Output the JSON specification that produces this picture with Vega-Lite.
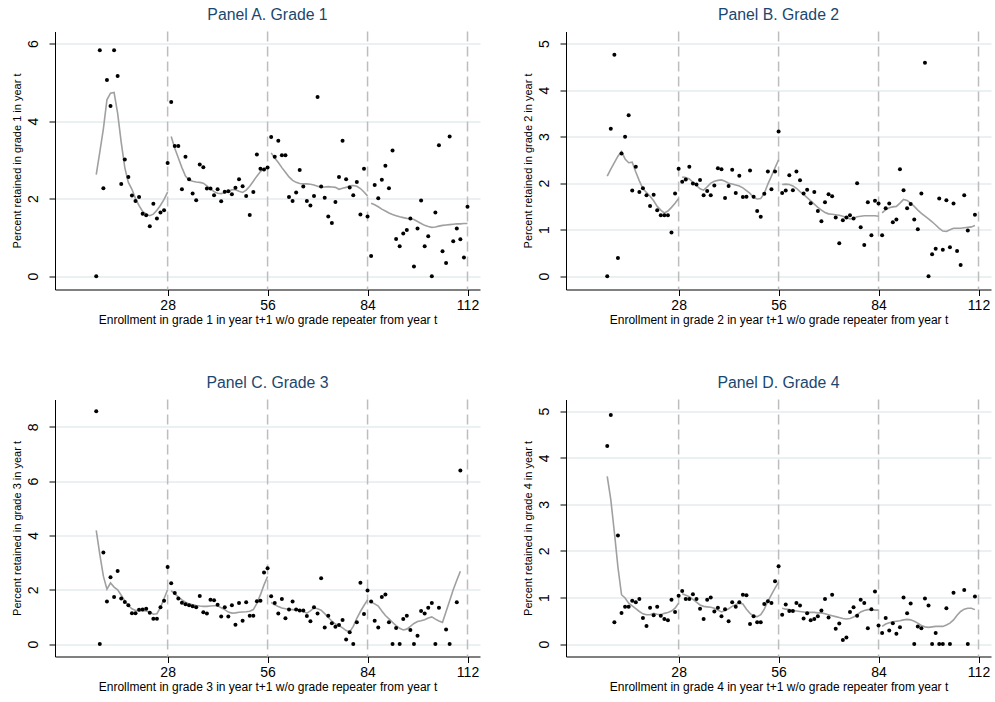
{
"$schema": "https://vega.github.io/schema/vega-lite/v6.json",
"background": "white",
"padding": {"left": 11, "top": 6.5, "right": 5, "bottom": 5},
"bounds": "flush",
"columns": 2,
"spacing": {"row": 110, "column": 86},
"config": {
  "font": "Liberation Sans",
  "view": {"stroke": null},
  "title": {"fontSize": 15.8, "fontWeight": "normal", "color": "#1a476f", "font": "Liberation Sans", "offset": 7, "anchor": "middle"},
  "axis": {"domainColor": "#000", "tickColor": "#000", "labelColor": "#000", "titleColor": "#000", "titleFontWeight": "normal", "labelFont": "Liberation Sans", "titleFont": "Liberation Sans", "domainWidth": 1, "tickWidth": 1, "tickSize": 6},
  "axisX": {"grid": false, "labelFontSize": 14, "titleFontSize": 12, "labelPadding": 3, "titlePadding": 2, "labelFlush": false},
  "axisY": {"grid": true, "gridColor": "#e4ecef", "gridWidth": 1.5, "labelAngle": -90, "labelAlign": "center", "labelBaseline": "bottom", "labelFontSize": 14, "labelPadding": 9, "titleFontSize": 11, "titlePadding": 4}
},
"datasets": {
"cuts": [{"x": 28}, {"x": 56}, {"x": 84}, {"x": 112}],
"pts": [
{"p":"A","x":8,"y":0},{"p":"A","x":9,"y":5.83},{"p":"A","x":10,"y":2.27},{"p":"A","x":11,"y":5.06},{"p":"A","x":12,"y":4.39},{"p":"A","x":13,"y":5.83},{"p":"A","x":14,"y":5.16},{"p":"A","x":15,"y":2.38},{"p":"A","x":16,"y":3.01},{"p":"A","x":17,"y":2.56},{"p":"A","x":18,"y":2.08},{"p":"A","x":19,"y":1.94},{"p":"A","x":20,"y":2.04},{"p":"A","x":21,"y":1.61},{"p":"A","x":22,"y":1.57},{"p":"A","x":23,"y":1.29},{"p":"A","x":24,"y":1.87},{"p":"A","x":25,"y":1.49},{"p":"A","x":26,"y":1.64},{"p":"A","x":27,"y":1.70},{"p":"A","x":28,"y":2.92},{"p":"A","x":29,"y":4.49},{"p":"A","x":30,"y":3.36},{"p":"A","x":31,"y":3.36},{"p":"A","x":32,"y":2.24},{"p":"A","x":33,"y":3.08},{"p":"A","x":34,"y":2.50},{"p":"A","x":35,"y":2.13},{"p":"A","x":36,"y":1.96},{"p":"A","x":37,"y":2.88},{"p":"A","x":38,"y":2.81},{"p":"A","x":39,"y":2.26},{"p":"A","x":40,"y":2.26},{"p":"A","x":41,"y":2.09},{"p":"A","x":42,"y":2.24},{"p":"A","x":43,"y":1.93},{"p":"A","x":44,"y":2.18},{"p":"A","x":45,"y":2.19},{"p":"A","x":46,"y":2.11},{"p":"A","x":47,"y":2.28},{"p":"A","x":48,"y":2.50},{"p":"A","x":49,"y":2.32},{"p":"A","x":50,"y":2.07},{"p":"A","x":51,"y":1.58},{"p":"A","x":52,"y":2.17},{"p":"A","x":53,"y":3.14},{"p":"A","x":54,"y":2.77},{"p":"A","x":55,"y":2.75},{"p":"A","x":56,"y":2.80},{"p":"A","x":57,"y":3.59},{"p":"A","x":58,"y":3.08},{"p":"A","x":59,"y":3.49},{"p":"A","x":60,"y":3.12},{"p":"A","x":61,"y":3.12},{"p":"A","x":62,"y":2.04},{"p":"A","x":63,"y":1.94},{"p":"A","x":64,"y":2.16},{"p":"A","x":65,"y":2.74},{"p":"A","x":66,"y":2.31},{"p":"A","x":67,"y":1.94},{"p":"A","x":68,"y":1.82},{"p":"A","x":69,"y":2.07},{"p":"A","x":70,"y":4.62},{"p":"A","x":71,"y":2.31},{"p":"A","x":72,"y":2.02},{"p":"A","x":73,"y":1.54},{"p":"A","x":74,"y":1.37},{"p":"A","x":75,"y":1.91},{"p":"A","x":76,"y":2.56},{"p":"A","x":77,"y":3.49},{"p":"A","x":78,"y":2.50},{"p":"A","x":79,"y":2.29},{"p":"A","x":80,"y":2.09},{"p":"A","x":81,"y":2.43},{"p":"A","x":82,"y":1.59},{"p":"A","x":83,"y":2.77},{"p":"A","x":84,"y":1.54},{"p":"A","x":85,"y":0.52},{"p":"A","x":86,"y":2.35},{"p":"A","x":87,"y":2.01},{"p":"A","x":88,"y":2.49},{"p":"A","x":89,"y":2.85},{"p":"A","x":90,"y":2.27},{"p":"A","x":91,"y":3.24},{"p":"A","x":92,"y":0.96},{"p":"A","x":93,"y":0.77},{"p":"A","x":94,"y":1.10},{"p":"A","x":95,"y":1.19},{"p":"A","x":96,"y":1.49},{"p":"A","x":97,"y":0.25},{"p":"A","x":98,"y":1.23},{"p":"A","x":99,"y":1.95},{"p":"A","x":100,"y":0.77},{"p":"A","x":101,"y":1.03},{"p":"A","x":102,"y":0},{"p":"A","x":103,"y":1.64},{"p":"A","x":104,"y":3.38},{"p":"A","x":105,"y":0.64},{"p":"A","x":106,"y":0.34},{"p":"A","x":107,"y":3.60},{"p":"A","x":108,"y":0.90},{"p":"A","x":109,"y":1.23},{"p":"A","x":110,"y":0.95},{"p":"A","x":111,"y":0.48},{"p":"A","x":112,"y":1.79},
{"p":"B","x":8,"y":0},{"p":"B","x":9,"y":3.17},{"p":"B","x":10,"y":4.76},{"p":"B","x":11,"y":0.39},{"p":"B","x":12,"y":2.64},{"p":"B","x":13,"y":3.0},{"p":"B","x":14,"y":3.46},{"p":"B","x":15,"y":1.84},{"p":"B","x":16,"y":2.35},{"p":"B","x":17,"y":1.81},{"p":"B","x":18,"y":1.89},{"p":"B","x":19,"y":1.74},{"p":"B","x":20,"y":1.51},{"p":"B","x":21,"y":1.75},{"p":"B","x":22,"y":1.42},{"p":"B","x":23,"y":1.31},{"p":"B","x":24,"y":1.31},{"p":"B","x":25,"y":1.31},{"p":"B","x":26,"y":0.94},{"p":"B","x":27,"y":1.78},{"p":"B","x":28,"y":2.31},{"p":"B","x":29,"y":2.03},{"p":"B","x":30,"y":2.08},{"p":"B","x":31,"y":2.35},{"p":"B","x":32,"y":1.99},{"p":"B","x":33,"y":1.97},{"p":"B","x":34,"y":2.07},{"p":"B","x":35,"y":1.74},{"p":"B","x":36,"y":1.83},{"p":"B","x":37,"y":1.74},{"p":"B","x":38,"y":1.95},{"p":"B","x":39,"y":2.32},{"p":"B","x":40,"y":2.30},{"p":"B","x":41,"y":1.68},{"p":"B","x":42,"y":1.94},{"p":"B","x":43,"y":2.29},{"p":"B","x":44,"y":1.79},{"p":"B","x":45,"y":2.16},{"p":"B","x":46,"y":1.70},{"p":"B","x":47,"y":1.71},{"p":"B","x":48,"y":2.27},{"p":"B","x":49,"y":1.71},{"p":"B","x":50,"y":1.40},{"p":"B","x":51,"y":1.28},{"p":"B","x":52,"y":1.77},{"p":"B","x":53,"y":2.25},{"p":"B","x":54,"y":1.87},{"p":"B","x":55,"y":2.25},{"p":"B","x":56,"y":3.11},{"p":"B","x":57,"y":1.79},{"p":"B","x":58,"y":1.84},{"p":"B","x":59,"y":2.17},{"p":"B","x":60,"y":1.85},{"p":"B","x":61,"y":2.25},{"p":"B","x":62,"y":2.06},{"p":"B","x":63,"y":1.78},{"p":"B","x":64,"y":1.86},{"p":"B","x":65,"y":1.57},{"p":"B","x":66,"y":1.81},{"p":"B","x":67,"y":1.40},{"p":"B","x":68,"y":1.18},{"p":"B","x":69,"y":1.59},{"p":"B","x":70,"y":1.76},{"p":"B","x":71,"y":1.72},{"p":"B","x":72,"y":1.26},{"p":"B","x":73,"y":0.71},{"p":"B","x":74,"y":1.20},{"p":"B","x":75,"y":1.26},{"p":"B","x":76,"y":1.31},{"p":"B","x":77,"y":1.24},{"p":"B","x":78,"y":2.0},{"p":"B","x":79,"y":1.05},{"p":"B","x":80,"y":0.67},{"p":"B","x":81,"y":1.59},{"p":"B","x":82,"y":0.88},{"p":"B","x":83,"y":1.62},{"p":"B","x":84,"y":1.56},{"p":"B","x":85,"y":0.88},{"p":"B","x":86,"y":1.46},{"p":"B","x":87,"y":1.56},{"p":"B","x":88,"y":1.16},{"p":"B","x":89,"y":1.22},{"p":"B","x":90,"y":2.30},{"p":"B","x":91,"y":1.85},{"p":"B","x":92,"y":1.46},{"p":"B","x":93,"y":1.55},{"p":"B","x":94,"y":1.22},{"p":"B","x":95,"y":1.01},{"p":"B","x":96,"y":1.78},{"p":"B","x":97,"y":4.59},{"p":"B","x":98,"y":0},{"p":"B","x":99,"y":0.47},{"p":"B","x":100,"y":0.59},{"p":"B","x":101,"y":1.67},{"p":"B","x":102,"y":0.57},{"p":"B","x":103,"y":1.63},{"p":"B","x":104,"y":0.62},{"p":"B","x":105,"y":1.56},{"p":"B","x":106,"y":0.54},{"p":"B","x":107,"y":0.24},{"p":"B","x":108,"y":1.74},{"p":"B","x":109,"y":0.98},{"p":"B","x":111,"y":1.32},
{"p":"C","x":8,"y":8.57},{"p":"C","x":9,"y":0},{"p":"C","x":10,"y":3.37},{"p":"C","x":11,"y":1.57},{"p":"C","x":12,"y":2.46},{"p":"C","x":13,"y":1.73},{"p":"C","x":14,"y":2.69},{"p":"C","x":15,"y":1.68},{"p":"C","x":16,"y":1.55},{"p":"C","x":17,"y":1.43},{"p":"C","x":18,"y":1.14},{"p":"C","x":19,"y":1.14},{"p":"C","x":20,"y":1.26},{"p":"C","x":21,"y":1.27},{"p":"C","x":22,"y":1.3},{"p":"C","x":23,"y":1.15},{"p":"C","x":24,"y":0.93},{"p":"C","x":25,"y":0.93},{"p":"C","x":26,"y":1.36},{"p":"C","x":27,"y":1.6},{"p":"C","x":28,"y":2.84},{"p":"C","x":29,"y":2.24},{"p":"C","x":30,"y":1.88},{"p":"C","x":31,"y":1.68},{"p":"C","x":32,"y":1.52},{"p":"C","x":33,"y":1.47},{"p":"C","x":34,"y":1.43},{"p":"C","x":35,"y":1.39},{"p":"C","x":36,"y":1.36},{"p":"C","x":37,"y":1.77},{"p":"C","x":38,"y":1.17},{"p":"C","x":39,"y":1.13},{"p":"C","x":40,"y":1.63},{"p":"C","x":41,"y":1.61},{"p":"C","x":42,"y":1.45},{"p":"C","x":43,"y":1.02},{"p":"C","x":44,"y":1.36},{"p":"C","x":45,"y":1.02},{"p":"C","x":46,"y":1.43},{"p":"C","x":47,"y":0.71},{"p":"C","x":48,"y":1.51},{"p":"C","x":49,"y":0.86},{"p":"C","x":50,"y":1.54},{"p":"C","x":51,"y":1.04},{"p":"C","x":52,"y":1.04},{"p":"C","x":53,"y":1.58},{"p":"C","x":54,"y":1.6},{"p":"C","x":55,"y":2.64},{"p":"C","x":56,"y":2.79},{"p":"C","x":57,"y":1.76},{"p":"C","x":58,"y":1.51},{"p":"C","x":59,"y":1.13},{"p":"C","x":60,"y":1.66},{"p":"C","x":61,"y":0.95},{"p":"C","x":62,"y":1.27},{"p":"C","x":63,"y":1.57},{"p":"C","x":64,"y":1.27},{"p":"C","x":65,"y":1.24},{"p":"C","x":66,"y":1.24},{"p":"C","x":67,"y":1.03},{"p":"C","x":68,"y":0.84},{"p":"C","x":69,"y":1.36},{"p":"C","x":70,"y":1.13},{"p":"C","x":71,"y":2.42},{"p":"C","x":72,"y":0.61},{"p":"C","x":73,"y":1.04},{"p":"C","x":74,"y":0.77},{"p":"C","x":75,"y":0.64},{"p":"C","x":76,"y":0.70},{"p":"C","x":77,"y":0.89},{"p":"C","x":78,"y":0.17},{"p":"C","x":79,"y":0.44},{"p":"C","x":80,"y":0},{"p":"C","x":81,"y":0.80},{"p":"C","x":82,"y":2.26},{"p":"C","x":83,"y":1.11},{"p":"C","x":84,"y":1.97},{"p":"C","x":85,"y":1.57},{"p":"C","x":86,"y":0.86},{"p":"C","x":87,"y":0.61},{"p":"C","x":88,"y":1.73},{"p":"C","x":89,"y":1.83},{"p":"C","x":90,"y":0.80},{"p":"C","x":91,"y":0},{"p":"C","x":92,"y":0.59},{"p":"C","x":93,"y":0},{"p":"C","x":94,"y":0.92},{"p":"C","x":95,"y":1.04},{"p":"C","x":96,"y":0.52},{"p":"C","x":97,"y":0},{"p":"C","x":98,"y":0.31},{"p":"C","x":99,"y":1.22},{"p":"C","x":100,"y":1.13},{"p":"C","x":101,"y":1.34},{"p":"C","x":102,"y":1.51},{"p":"C","x":103,"y":0},{"p":"C","x":104,"y":1.34},{"p":"C","x":106,"y":0.54},{"p":"C","x":107,"y":0},{"p":"C","x":109,"y":1.54},{"p":"C","x":110,"y":6.39},
{"p":"D","x":8,"y":4.25},{"p":"D","x":9,"y":4.92},{"p":"D","x":10,"y":0.47},{"p":"D","x":11,"y":2.33},{"p":"D","x":12,"y":0.67},{"p":"D","x":13,"y":0.80},{"p":"D","x":14,"y":0.80},{"p":"D","x":15,"y":0.93},{"p":"D","x":16,"y":0.90},{"p":"D","x":17,"y":0.97},{"p":"D","x":18,"y":0.56},{"p":"D","x":19,"y":0.39},{"p":"D","x":20,"y":0.78},{"p":"D","x":21,"y":0.62},{"p":"D","x":22,"y":0.80},{"p":"D","x":23,"y":0.61},{"p":"D","x":24,"y":0.54},{"p":"D","x":25,"y":0.51},{"p":"D","x":26,"y":0.95},{"p":"D","x":27,"y":0.69},{"p":"D","x":28,"y":1.04},{"p":"D","x":29,"y":1.14},{"p":"D","x":30,"y":0.97},{"p":"D","x":31,"y":0.97},{"p":"D","x":32,"y":1.07},{"p":"D","x":33,"y":0.97},{"p":"D","x":34,"y":0.76},{"p":"D","x":35,"y":0.54},{"p":"D","x":36,"y":0.95},{"p":"D","x":37,"y":1.0},{"p":"D","x":38,"y":0.70},{"p":"D","x":39,"y":0.78},{"p":"D","x":40,"y":0.60},{"p":"D","x":41,"y":0.75},{"p":"D","x":42,"y":0.49},{"p":"D","x":43,"y":0.90},{"p":"D","x":44,"y":0.80},{"p":"D","x":45,"y":0.90},{"p":"D","x":46,"y":1.06},{"p":"D","x":47,"y":1.05},{"p":"D","x":48,"y":0.43},{"p":"D","x":49,"y":0.60},{"p":"D","x":50,"y":0.47},{"p":"D","x":51,"y":0.47},{"p":"D","x":52,"y":0.86},{"p":"D","x":53,"y":0.92},{"p":"D","x":54,"y":0.88},{"p":"D","x":55,"y":1.35},{"p":"D","x":56,"y":1.67},{"p":"D","x":57,"y":0.63},{"p":"D","x":58,"y":0.85},{"p":"D","x":59,"y":0.71},{"p":"D","x":60,"y":0.71},{"p":"D","x":61,"y":0.88},{"p":"D","x":62,"y":0.83},{"p":"D","x":63,"y":0.55},{"p":"D","x":64,"y":0.66},{"p":"D","x":65,"y":0.51},{"p":"D","x":66,"y":0.54},{"p":"D","x":67,"y":0.60},{"p":"D","x":68,"y":0.72},{"p":"D","x":69,"y":0.97},{"p":"D","x":70,"y":0.57},{"p":"D","x":71,"y":1.06},{"p":"D","x":72,"y":0.33},{"p":"D","x":73,"y":0.44},{"p":"D","x":74,"y":0.09},{"p":"D","x":75,"y":0.14},{"p":"D","x":76,"y":0.69},{"p":"D","x":77,"y":0.79},{"p":"D","x":78,"y":0.61},{"p":"D","x":79,"y":0.95},{"p":"D","x":80,"y":0.88},{"p":"D","x":81,"y":0.34},{"p":"D","x":82,"y":0.75},{"p":"D","x":83,"y":1.13},{"p":"D","x":84,"y":0.40},{"p":"D","x":85,"y":0.24},{"p":"D","x":86,"y":0.56},{"p":"D","x":87,"y":0.29},{"p":"D","x":88,"y":0.45},{"p":"D","x":89,"y":0.22},{"p":"D","x":90,"y":0.36},{"p":"D","x":91,"y":1.0},{"p":"D","x":92,"y":0.66},{"p":"D","x":93,"y":0.87},{"p":"D","x":94,"y":0},{"p":"D","x":95,"y":0.38},{"p":"D","x":96,"y":0.34},{"p":"D","x":97,"y":0.98},{"p":"D","x":98,"y":0.83},{"p":"D","x":99,"y":0},{"p":"D","x":100,"y":0.24},{"p":"D","x":101,"y":0},{"p":"D","x":102,"y":0},{"p":"D","x":103,"y":0.77},{"p":"D","x":104,"y":0},{"p":"D","x":105,"y":1.1},{"p":"D","x":108,"y":1.16},{"p":"D","x":109,"y":0},{"p":"D","x":111,"y":1.02}
],
"fit": [
{"p":"A","s":1,"x":8,"y":2.62},{"p":"A","s":1,"x":9,"y":3.2},{"p":"A","s":1,"x":10,"y":3.8},{"p":"A","s":1,"x":11,"y":4.55},{"p":"A","s":1,"x":12,"y":4.72},{"p":"A","s":1,"x":13,"y":4.74},{"p":"A","s":1,"x":14,"y":4.2},{"p":"A","s":1,"x":15,"y":3.45},{"p":"A","s":1,"x":16,"y":2.8},{"p":"A","s":1,"x":17,"y":2.42},{"p":"A","s":1,"x":18,"y":2.24},{"p":"A","s":1,"x":19,"y":2.0},{"p":"A","s":1,"x":20,"y":1.82},{"p":"A","s":1,"x":21,"y":1.67},{"p":"A","s":1,"x":22,"y":1.6},{"p":"A","s":1,"x":23,"y":1.56},{"p":"A","s":1,"x":24,"y":1.6},{"p":"A","s":1,"x":25,"y":1.7},{"p":"A","s":1,"x":26,"y":1.83},{"p":"A","s":1,"x":27,"y":1.98},{"p":"A","s":1,"x":28,"y":2.17},
{"p":"A","s":2,"x":29,"y":3.6},{"p":"A","s":2,"x":30,"y":3.3},{"p":"A","s":2,"x":31,"y":3.05},{"p":"A","s":2,"x":32,"y":2.8},{"p":"A","s":2,"x":33,"y":2.58},{"p":"A","s":2,"x":34,"y":2.48},{"p":"A","s":2,"x":35,"y":2.45},{"p":"A","s":2,"x":36,"y":2.43},{"p":"A","s":2,"x":37,"y":2.42},{"p":"A","s":2,"x":38,"y":2.4},{"p":"A","s":2,"x":39,"y":2.33},{"p":"A","s":2,"x":40,"y":2.25},{"p":"A","s":2,"x":41,"y":2.18},{"p":"A","s":2,"x":42,"y":2.14},{"p":"A","s":2,"x":43,"y":2.13},{"p":"A","s":2,"x":44,"y":2.15},{"p":"A","s":2,"x":45,"y":2.19},{"p":"A","s":2,"x":46,"y":2.23},{"p":"A","s":2,"x":47,"y":2.23},{"p":"A","s":2,"x":48,"y":2.19},{"p":"A","s":2,"x":49,"y":2.16},{"p":"A","s":2,"x":50,"y":2.22},{"p":"A","s":2,"x":51,"y":2.32},{"p":"A","s":2,"x":52,"y":2.45},{"p":"A","s":2,"x":53,"y":2.58},{"p":"A","s":2,"x":54,"y":2.7},{"p":"A","s":2,"x":55,"y":2.77},{"p":"A","s":2,"x":56,"y":2.8},
{"p":"A","s":3,"x":57,"y":3.18},{"p":"A","s":3,"x":58,"y":3.05},{"p":"A","s":3,"x":59,"y":2.93},{"p":"A","s":3,"x":60,"y":2.8},{"p":"A","s":3,"x":61,"y":2.68},{"p":"A","s":3,"x":62,"y":2.56},{"p":"A","s":3,"x":63,"y":2.47},{"p":"A","s":3,"x":64,"y":2.42},{"p":"A","s":3,"x":65,"y":2.39},{"p":"A","s":3,"x":66,"y":2.38},{"p":"A","s":3,"x":67,"y":2.38},{"p":"A","s":3,"x":68,"y":2.37},{"p":"A","s":3,"x":69,"y":2.35},{"p":"A","s":3,"x":70,"y":2.32},{"p":"A","s":3,"x":71,"y":2.29},{"p":"A","s":3,"x":72,"y":2.3},{"p":"A","s":3,"x":73,"y":2.31},{"p":"A","s":3,"x":74,"y":2.3},{"p":"A","s":3,"x":75,"y":2.29},{"p":"A","s":3,"x":76,"y":2.24},{"p":"A","s":3,"x":77,"y":2.27},{"p":"A","s":3,"x":78,"y":2.29},{"p":"A","s":3,"x":79,"y":2.33},{"p":"A","s":3,"x":80,"y":2.34},{"p":"A","s":3,"x":81,"y":2.32},{"p":"A","s":3,"x":82,"y":2.26},{"p":"A","s":3,"x":83,"y":2.17},{"p":"A","s":3,"x":84,"y":2.07},
{"p":"A","s":4,"x":85,"y":1.88},{"p":"A","s":4,"x":86,"y":1.84},{"p":"A","s":4,"x":87,"y":1.79},{"p":"A","s":4,"x":88,"y":1.73},{"p":"A","s":4,"x":89,"y":1.68},{"p":"A","s":4,"x":90,"y":1.63},{"p":"A","s":4,"x":91,"y":1.59},{"p":"A","s":4,"x":92,"y":1.56},{"p":"A","s":4,"x":93,"y":1.53},{"p":"A","s":4,"x":94,"y":1.51},{"p":"A","s":4,"x":95,"y":1.49},{"p":"A","s":4,"x":96,"y":1.48},{"p":"A","s":4,"x":97,"y":1.46},{"p":"A","s":4,"x":98,"y":1.41},{"p":"A","s":4,"x":99,"y":1.36},{"p":"A","s":4,"x":100,"y":1.31},{"p":"A","s":4,"x":101,"y":1.28},{"p":"A","s":4,"x":102,"y":1.26},{"p":"A","s":4,"x":103,"y":1.27},{"p":"A","s":4,"x":104,"y":1.29},{"p":"A","s":4,"x":105,"y":1.31},{"p":"A","s":4,"x":106,"y":1.32},{"p":"A","s":4,"x":107,"y":1.33},{"p":"A","s":4,"x":108,"y":1.34},{"p":"A","s":4,"x":109,"y":1.35},{"p":"A","s":4,"x":110,"y":1.35},{"p":"A","s":4,"x":111,"y":1.36},{"p":"A","s":4,"x":112,"y":1.36},
{"p":"B","s":1,"x":8,"y":2.15},{"p":"B","s":1,"x":9,"y":2.3},{"p":"B","s":1,"x":10,"y":2.44},{"p":"B","s":1,"x":11,"y":2.58},{"p":"B","s":1,"x":12,"y":2.68},{"p":"B","s":1,"x":13,"y":2.52},{"p":"B","s":1,"x":14,"y":2.44},{"p":"B","s":1,"x":15,"y":2.45},{"p":"B","s":1,"x":16,"y":2.24},{"p":"B","s":1,"x":17,"y":2.05},{"p":"B","s":1,"x":18,"y":1.88},{"p":"B","s":1,"x":19,"y":1.8},{"p":"B","s":1,"x":20,"y":1.72},{"p":"B","s":1,"x":21,"y":1.62},{"p":"B","s":1,"x":22,"y":1.5},{"p":"B","s":1,"x":23,"y":1.42},{"p":"B","s":1,"x":24,"y":1.36},{"p":"B","s":1,"x":25,"y":1.4},{"p":"B","s":1,"x":26,"y":1.48},{"p":"B","s":1,"x":27,"y":1.57},{"p":"B","s":1,"x":28,"y":1.67},
{"p":"B","s":2,"x":29,"y":2.13},{"p":"B","s":2,"x":30,"y":2.12},{"p":"B","s":2,"x":31,"y":2.09},{"p":"B","s":2,"x":32,"y":2.02},{"p":"B","s":2,"x":33,"y":1.95},{"p":"B","s":2,"x":34,"y":1.88},{"p":"B","s":2,"x":35,"y":1.85},{"p":"B","s":2,"x":36,"y":1.92},{"p":"B","s":2,"x":37,"y":2.0},{"p":"B","s":2,"x":38,"y":2.04},{"p":"B","s":2,"x":39,"y":2.06},{"p":"B","s":2,"x":40,"y":2.07},{"p":"B","s":2,"x":41,"y":2.04},{"p":"B","s":2,"x":42,"y":2.0},{"p":"B","s":2,"x":43,"y":1.98},{"p":"B","s":2,"x":44,"y":1.96},{"p":"B","s":2,"x":45,"y":1.94},{"p":"B","s":2,"x":46,"y":1.9},{"p":"B","s":2,"x":47,"y":1.84},{"p":"B","s":2,"x":48,"y":1.78},{"p":"B","s":2,"x":49,"y":1.69},{"p":"B","s":2,"x":50,"y":1.66},{"p":"B","s":2,"x":51,"y":1.67},{"p":"B","s":2,"x":52,"y":1.78},{"p":"B","s":2,"x":53,"y":1.98},{"p":"B","s":2,"x":54,"y":2.15},{"p":"B","s":2,"x":55,"y":2.33},{"p":"B","s":2,"x":56,"y":2.5},
{"p":"B","s":3,"x":57,"y":1.97},{"p":"B","s":3,"x":58,"y":1.98},{"p":"B","s":3,"x":59,"y":1.97},{"p":"B","s":3,"x":60,"y":1.94},{"p":"B","s":3,"x":61,"y":1.89},{"p":"B","s":3,"x":62,"y":1.82},{"p":"B","s":3,"x":63,"y":1.76},{"p":"B","s":3,"x":64,"y":1.69},{"p":"B","s":3,"x":65,"y":1.62},{"p":"B","s":3,"x":66,"y":1.55},{"p":"B","s":3,"x":67,"y":1.48},{"p":"B","s":3,"x":68,"y":1.42},{"p":"B","s":3,"x":69,"y":1.37},{"p":"B","s":3,"x":70,"y":1.34},{"p":"B","s":3,"x":71,"y":1.33},{"p":"B","s":3,"x":72,"y":1.32},{"p":"B","s":3,"x":73,"y":1.31},{"p":"B","s":3,"x":74,"y":1.29},{"p":"B","s":3,"x":75,"y":1.26},{"p":"B","s":3,"x":76,"y":1.23},{"p":"B","s":3,"x":77,"y":1.24},{"p":"B","s":3,"x":78,"y":1.28},{"p":"B","s":3,"x":79,"y":1.29},{"p":"B","s":3,"x":80,"y":1.3},{"p":"B","s":3,"x":81,"y":1.3},{"p":"B","s":3,"x":82,"y":1.3},{"p":"B","s":3,"x":83,"y":1.3},{"p":"B","s":3,"x":84,"y":1.29},
{"p":"B","s":4,"x":85,"y":1.36},{"p":"B","s":4,"x":86,"y":1.43},{"p":"B","s":4,"x":87,"y":1.47},{"p":"B","s":4,"x":88,"y":1.49},{"p":"B","s":4,"x":89,"y":1.5},{"p":"B","s":4,"x":90,"y":1.57},{"p":"B","s":4,"x":91,"y":1.65},{"p":"B","s":4,"x":92,"y":1.63},{"p":"B","s":4,"x":93,"y":1.57},{"p":"B","s":4,"x":94,"y":1.5},{"p":"B","s":4,"x":95,"y":1.42},{"p":"B","s":4,"x":96,"y":1.35},{"p":"B","s":4,"x":97,"y":1.29},{"p":"B","s":4,"x":98,"y":1.23},{"p":"B","s":4,"x":99,"y":1.17},{"p":"B","s":4,"x":100,"y":1.1},{"p":"B","s":4,"x":101,"y":1.03},{"p":"B","s":4,"x":102,"y":0.97},{"p":"B","s":4,"x":103,"y":0.96},{"p":"B","s":4,"x":104,"y":1.0},{"p":"B","s":4,"x":105,"y":1.03},{"p":"B","s":4,"x":106,"y":1.03},{"p":"B","s":4,"x":107,"y":1.03},{"p":"B","s":4,"x":108,"y":1.04},{"p":"B","s":4,"x":109,"y":1.05},{"p":"B","s":4,"x":110,"y":1.06},{"p":"B","s":4,"x":111,"y":1.09},
{"p":"C","s":1,"x":8,"y":4.19},{"p":"C","s":1,"x":9,"y":3.3},{"p":"C","s":1,"x":10,"y":2.5},{"p":"C","s":1,"x":11,"y":2.02},{"p":"C","s":1,"x":12,"y":2.25},{"p":"C","s":1,"x":13,"y":2.1},{"p":"C","s":1,"x":14,"y":2.0},{"p":"C","s":1,"x":15,"y":1.8},{"p":"C","s":1,"x":16,"y":1.6},{"p":"C","s":1,"x":17,"y":1.42},{"p":"C","s":1,"x":18,"y":1.3},{"p":"C","s":1,"x":19,"y":1.24},{"p":"C","s":1,"x":20,"y":1.23},{"p":"C","s":1,"x":21,"y":1.23},{"p":"C","s":1,"x":22,"y":1.22},{"p":"C","s":1,"x":23,"y":1.18},{"p":"C","s":1,"x":24,"y":1.1},{"p":"C","s":1,"x":25,"y":1.12},{"p":"C","s":1,"x":26,"y":1.35},{"p":"C","s":1,"x":27,"y":1.68},{"p":"C","s":1,"x":28,"y":2.0},
{"p":"C","s":2,"x":29,"y":1.97},{"p":"C","s":2,"x":30,"y":1.85},{"p":"C","s":2,"x":31,"y":1.74},{"p":"C","s":2,"x":32,"y":1.63},{"p":"C","s":2,"x":33,"y":1.54},{"p":"C","s":2,"x":34,"y":1.48},{"p":"C","s":2,"x":35,"y":1.45},{"p":"C","s":2,"x":36,"y":1.42},{"p":"C","s":2,"x":37,"y":1.4},{"p":"C","s":2,"x":38,"y":1.39},{"p":"C","s":2,"x":39,"y":1.39},{"p":"C","s":2,"x":40,"y":1.4},{"p":"C","s":2,"x":41,"y":1.41},{"p":"C","s":2,"x":42,"y":1.41},{"p":"C","s":2,"x":43,"y":1.34},{"p":"C","s":2,"x":44,"y":1.27},{"p":"C","s":2,"x":45,"y":1.18},{"p":"C","s":2,"x":46,"y":1.14},{"p":"C","s":2,"x":47,"y":1.15},{"p":"C","s":2,"x":48,"y":1.17},{"p":"C","s":2,"x":49,"y":1.18},{"p":"C","s":2,"x":50,"y":1.19},{"p":"C","s":2,"x":51,"y":1.21},{"p":"C","s":2,"x":52,"y":1.27},{"p":"C","s":2,"x":53,"y":1.5},{"p":"C","s":2,"x":54,"y":1.82},{"p":"C","s":2,"x":55,"y":2.18},{"p":"C","s":2,"x":56,"y":2.49},
{"p":"C","s":3,"x":57,"y":1.53},{"p":"C","s":3,"x":58,"y":1.45},{"p":"C","s":3,"x":59,"y":1.38},{"p":"C","s":3,"x":60,"y":1.33},{"p":"C","s":3,"x":61,"y":1.3},{"p":"C","s":3,"x":62,"y":1.28},{"p":"C","s":3,"x":63,"y":1.27},{"p":"C","s":3,"x":64,"y":1.25},{"p":"C","s":3,"x":65,"y":1.24},{"p":"C","s":3,"x":66,"y":1.2},{"p":"C","s":3,"x":67,"y":1.14},{"p":"C","s":3,"x":68,"y":1.22},{"p":"C","s":3,"x":69,"y":1.33},{"p":"C","s":3,"x":70,"y":1.3},{"p":"C","s":3,"x":71,"y":1.25},{"p":"C","s":3,"x":72,"y":1.12},{"p":"C","s":3,"x":73,"y":0.98},{"p":"C","s":3,"x":74,"y":0.85},{"p":"C","s":3,"x":75,"y":0.74},{"p":"C","s":3,"x":76,"y":0.68},{"p":"C","s":3,"x":77,"y":0.6},{"p":"C","s":3,"x":78,"y":0.5},{"p":"C","s":3,"x":79,"y":0.45},{"p":"C","s":3,"x":80,"y":0.65},{"p":"C","s":3,"x":81,"y":0.95},{"p":"C","s":3,"x":82,"y":1.2},{"p":"C","s":3,"x":83,"y":1.42},{"p":"C","s":3,"x":84,"y":1.63},
{"p":"C","s":4,"x":85,"y":1.55},{"p":"C","s":4,"x":86,"y":1.48},{"p":"C","s":4,"x":87,"y":1.4},{"p":"C","s":4,"x":88,"y":1.22},{"p":"C","s":4,"x":89,"y":1.05},{"p":"C","s":4,"x":90,"y":0.93},{"p":"C","s":4,"x":91,"y":0.8},{"p":"C","s":4,"x":92,"y":0.68},{"p":"C","s":4,"x":93,"y":0.58},{"p":"C","s":4,"x":94,"y":0.52},{"p":"C","s":4,"x":95,"y":0.55},{"p":"C","s":4,"x":96,"y":0.65},{"p":"C","s":4,"x":97,"y":0.76},{"p":"C","s":4,"x":98,"y":0.83},{"p":"C","s":4,"x":99,"y":0.86},{"p":"C","s":4,"x":100,"y":0.9},{"p":"C","s":4,"x":101,"y":0.96},{"p":"C","s":4,"x":102,"y":1.0},{"p":"C","s":4,"x":103,"y":0.92},{"p":"C","s":4,"x":104,"y":0.85},{"p":"C","s":4,"x":105,"y":0.8},{"p":"C","s":4,"x":106,"y":1.2},{"p":"C","s":4,"x":107,"y":1.6},{"p":"C","s":4,"x":108,"y":2.0},{"p":"C","s":4,"x":109,"y":2.35},{"p":"C","s":4,"x":110,"y":2.68},
{"p":"D","s":1,"x":8,"y":3.6},{"p":"D","s":1,"x":9,"y":3.1},{"p":"D","s":1,"x":10,"y":2.4},{"p":"D","s":1,"x":11,"y":1.65},{"p":"D","s":1,"x":12,"y":1.06},{"p":"D","s":1,"x":13,"y":0.99},{"p":"D","s":1,"x":14,"y":0.88},{"p":"D","s":1,"x":15,"y":0.82},{"p":"D","s":1,"x":16,"y":0.76},{"p":"D","s":1,"x":17,"y":0.7},{"p":"D","s":1,"x":18,"y":0.65},{"p":"D","s":1,"x":19,"y":0.63},{"p":"D","s":1,"x":20,"y":0.63},{"p":"D","s":1,"x":21,"y":0.66},{"p":"D","s":1,"x":22,"y":0.64},{"p":"D","s":1,"x":23,"y":0.63},{"p":"D","s":1,"x":24,"y":0.66},{"p":"D","s":1,"x":25,"y":0.68},{"p":"D","s":1,"x":26,"y":0.71},{"p":"D","s":1,"x":27,"y":0.77},{"p":"D","s":1,"x":28,"y":0.88},
{"p":"D","s":2,"x":29,"y":1.08},{"p":"D","s":2,"x":30,"y":1.05},{"p":"D","s":2,"x":31,"y":1.02},{"p":"D","s":2,"x":32,"y":0.96},{"p":"D","s":2,"x":33,"y":0.9},{"p":"D","s":2,"x":34,"y":0.84},{"p":"D","s":2,"x":35,"y":0.81},{"p":"D","s":2,"x":36,"y":0.8},{"p":"D","s":2,"x":37,"y":0.79},{"p":"D","s":2,"x":38,"y":0.77},{"p":"D","s":2,"x":39,"y":0.73},{"p":"D","s":2,"x":40,"y":0.69},{"p":"D","s":2,"x":41,"y":0.72},{"p":"D","s":2,"x":42,"y":0.76},{"p":"D","s":2,"x":43,"y":0.81},{"p":"D","s":2,"x":44,"y":0.85},{"p":"D","s":2,"x":45,"y":0.88},{"p":"D","s":2,"x":46,"y":0.86},{"p":"D","s":2,"x":47,"y":0.75},{"p":"D","s":2,"x":48,"y":0.66},{"p":"D","s":2,"x":49,"y":0.6},{"p":"D","s":2,"x":50,"y":0.59},{"p":"D","s":2,"x":51,"y":0.63},{"p":"D","s":2,"x":52,"y":0.75},{"p":"D","s":2,"x":53,"y":0.92},{"p":"D","s":2,"x":54,"y":1.06},{"p":"D","s":2,"x":55,"y":1.2},{"p":"D","s":2,"x":56,"y":1.33},
{"p":"D","s":3,"x":57,"y":0.77},{"p":"D","s":3,"x":58,"y":0.75},{"p":"D","s":3,"x":59,"y":0.74},{"p":"D","s":3,"x":60,"y":0.72},{"p":"D","s":3,"x":61,"y":0.71},{"p":"D","s":3,"x":62,"y":0.7},{"p":"D","s":3,"x":63,"y":0.69},{"p":"D","s":3,"x":64,"y":0.68},{"p":"D","s":3,"x":65,"y":0.68},{"p":"D","s":3,"x":66,"y":0.68},{"p":"D","s":3,"x":67,"y":0.67},{"p":"D","s":3,"x":68,"y":0.67},{"p":"D","s":3,"x":69,"y":0.65},{"p":"D","s":3,"x":70,"y":0.63},{"p":"D","s":3,"x":71,"y":0.61},{"p":"D","s":3,"x":72,"y":0.59},{"p":"D","s":3,"x":73,"y":0.57},{"p":"D","s":3,"x":74,"y":0.55},{"p":"D","s":3,"x":75,"y":0.54},{"p":"D","s":3,"x":76,"y":0.55},{"p":"D","s":3,"x":77,"y":0.58},{"p":"D","s":3,"x":78,"y":0.63},{"p":"D","s":3,"x":79,"y":0.69},{"p":"D","s":3,"x":80,"y":0.72},{"p":"D","s":3,"x":81,"y":0.74},{"p":"D","s":3,"x":82,"y":0.74},{"p":"D","s":3,"x":83,"y":0.73},{"p":"D","s":3,"x":84,"y":0.73},
{"p":"D","s":4,"x":85,"y":0.38},{"p":"D","s":4,"x":86,"y":0.43},{"p":"D","s":4,"x":87,"y":0.46},{"p":"D","s":4,"x":88,"y":0.48},{"p":"D","s":4,"x":89,"y":0.49},{"p":"D","s":4,"x":90,"y":0.5},{"p":"D","s":4,"x":91,"y":0.52},{"p":"D","s":4,"x":92,"y":0.53},{"p":"D","s":4,"x":93,"y":0.52},{"p":"D","s":4,"x":94,"y":0.49},{"p":"D","s":4,"x":95,"y":0.45},{"p":"D","s":4,"x":96,"y":0.4},{"p":"D","s":4,"x":97,"y":0.37},{"p":"D","s":4,"x":98,"y":0.36},{"p":"D","s":4,"x":99,"y":0.37},{"p":"D","s":4,"x":100,"y":0.38},{"p":"D","s":4,"x":101,"y":0.38},{"p":"D","s":4,"x":102,"y":0.38},{"p":"D","s":4,"x":103,"y":0.41},{"p":"D","s":4,"x":104,"y":0.45},{"p":"D","s":4,"x":105,"y":0.52},{"p":"D","s":4,"x":106,"y":0.62},{"p":"D","s":4,"x":107,"y":0.7},{"p":"D","s":4,"x":108,"y":0.75},{"p":"D","s":4,"x":109,"y":0.77},{"p":"D","s":4,"x":110,"y":0.77},{"p":"D","s":4,"x":111,"y":0.74}
]
},
"concat": [
{
 "width": 425, "height": 258,
 "title": "Panel A. Grade 1",
 "encoding": {"x": {"field": "x", "type": "quantitative", "scale": {"domain": [-3.55, 115.5], "nice": false, "zero": false}, "axis": {"values": [28, 56, 84, 112], "title": "Enrollment in grade 1 in year t+1 w/o grade repeater from year t"}}},
 "layer": [
  {"data": {"name": "cuts"}, "mark": {"type": "rule", "color": "#bdbdbd", "strokeDash": [10, 5], "strokeWidth": 1.5}, "encoding": {}},
  {"data": {"name": "fit"}, "transform": [{"filter": "datum.p === 'A'"}], "mark": {"type": "line", "color": "#a0a0a0", "strokeWidth": 1.6}, "encoding": {"y": {"field": "y", "type": "quantitative", "scale": {"domain": [-0.344, 6.311], "nice": false, "zero": false}, "axis": {"values": [0, 2, 4, 6], "title": "Percent retained in grade 1 in year t"}}, "detail": {"field": "s", "type": "nominal"}}},
  {"data": {"name": "pts"}, "transform": [{"filter": "datum.p === 'A'"}], "mark": {"type": "circle", "color": "#000000", "opacity": 1, "size": 16}, "encoding": {"y": {"field": "y", "type": "quantitative"}}}
 ]
},
{
 "width": 425, "height": 258,
 "title": "Panel B. Grade 2",
 "encoding": {"x": {"field": "x", "type": "quantitative", "scale": {"domain": [-3.55, 115.5], "nice": false, "zero": false}, "axis": {"values": [28, 56, 84, 112], "title": "Enrollment in grade 2 in year t+1 w/o grade repeater from year t"}}},
 "layer": [
  {"data": {"name": "cuts"}, "mark": {"type": "rule", "color": "#bdbdbd", "strokeDash": [10, 5], "strokeWidth": 1.5}, "encoding": {}},
  {"data": {"name": "fit"}, "transform": [{"filter": "datum.p === 'B'"}], "mark": {"type": "line", "color": "#a0a0a0", "strokeWidth": 1.6}, "encoding": {"y": {"field": "y", "type": "quantitative", "scale": {"domain": [-0.286, 5.26], "nice": false, "zero": false}, "axis": {"values": [0, 1, 2, 3, 4, 5], "title": "Percent retained in grade 2 in year t"}}, "detail": {"field": "s", "type": "nominal"}}},
  {"data": {"name": "pts"}, "transform": [{"filter": "datum.p === 'B'"}], "mark": {"type": "circle", "color": "#000000", "opacity": 1, "size": 16}, "encoding": {"y": {"field": "y", "type": "quantitative"}}}
 ]
},
{
 "width": 425, "height": 257,
 "title": "Panel C. Grade 3",
 "encoding": {"x": {"field": "x", "type": "quantitative", "scale": {"domain": [-3.55, 115.5], "nice": false, "zero": false}, "axis": {"values": [28, 56, 84, 112], "title": "Enrollment in grade 3 in year t+1 w/o grade repeater from year t"}}},
 "layer": [
  {"data": {"name": "cuts"}, "mark": {"type": "rule", "color": "#bdbdbd", "strokeDash": [10, 5], "strokeWidth": 1.5}, "encoding": {}},
  {"data": {"name": "fit"}, "transform": [{"filter": "datum.p === 'C'"}], "mark": {"type": "line", "color": "#a0a0a0", "strokeWidth": 1.6}, "encoding": {"y": {"field": "y", "type": "quantitative", "scale": {"domain": [-0.457, 9.007], "nice": false, "zero": false}, "axis": {"values": [0, 2, 4, 6, 8], "title": "Percent retained in grade 3 in year t"}}, "detail": {"field": "s", "type": "nominal"}}},
  {"data": {"name": "pts"}, "transform": [{"filter": "datum.p === 'C'"}], "mark": {"type": "circle", "color": "#000000", "opacity": 1, "size": 16}, "encoding": {"y": {"field": "y", "type": "quantitative"}}}
 ]
},
{
 "width": 425, "height": 257,
 "title": "Panel D. Grade 4",
 "encoding": {"x": {"field": "x", "type": "quantitative", "scale": {"domain": [-3.55, 115.5], "nice": false, "zero": false}, "axis": {"values": [28, 56, 84, 112], "title": "Enrollment in grade 4 in year t+1 w/o grade repeater from year t"}}},
 "layer": [
  {"data": {"name": "cuts"}, "mark": {"type": "rule", "color": "#bdbdbd", "strokeDash": [10, 5], "strokeWidth": 1.5}, "encoding": {}},
  {"data": {"name": "fit"}, "transform": [{"filter": "datum.p === 'D'"}], "mark": {"type": "line", "color": "#a0a0a0", "strokeWidth": 1.6}, "encoding": {"y": {"field": "y", "type": "quantitative", "scale": {"domain": [-0.266, 5.25], "nice": false, "zero": false}, "axis": {"values": [0, 1, 2, 3, 4, 5], "title": "Percent retained in grade 4 in year t"}}, "detail": {"field": "s", "type": "nominal"}}},
  {"data": {"name": "pts"}, "transform": [{"filter": "datum.p === 'D'"}], "mark": {"type": "circle", "color": "#000000", "opacity": 1, "size": 16}, "encoding": {"y": {"field": "y", "type": "quantitative"}}}
 ]
}
]
}
